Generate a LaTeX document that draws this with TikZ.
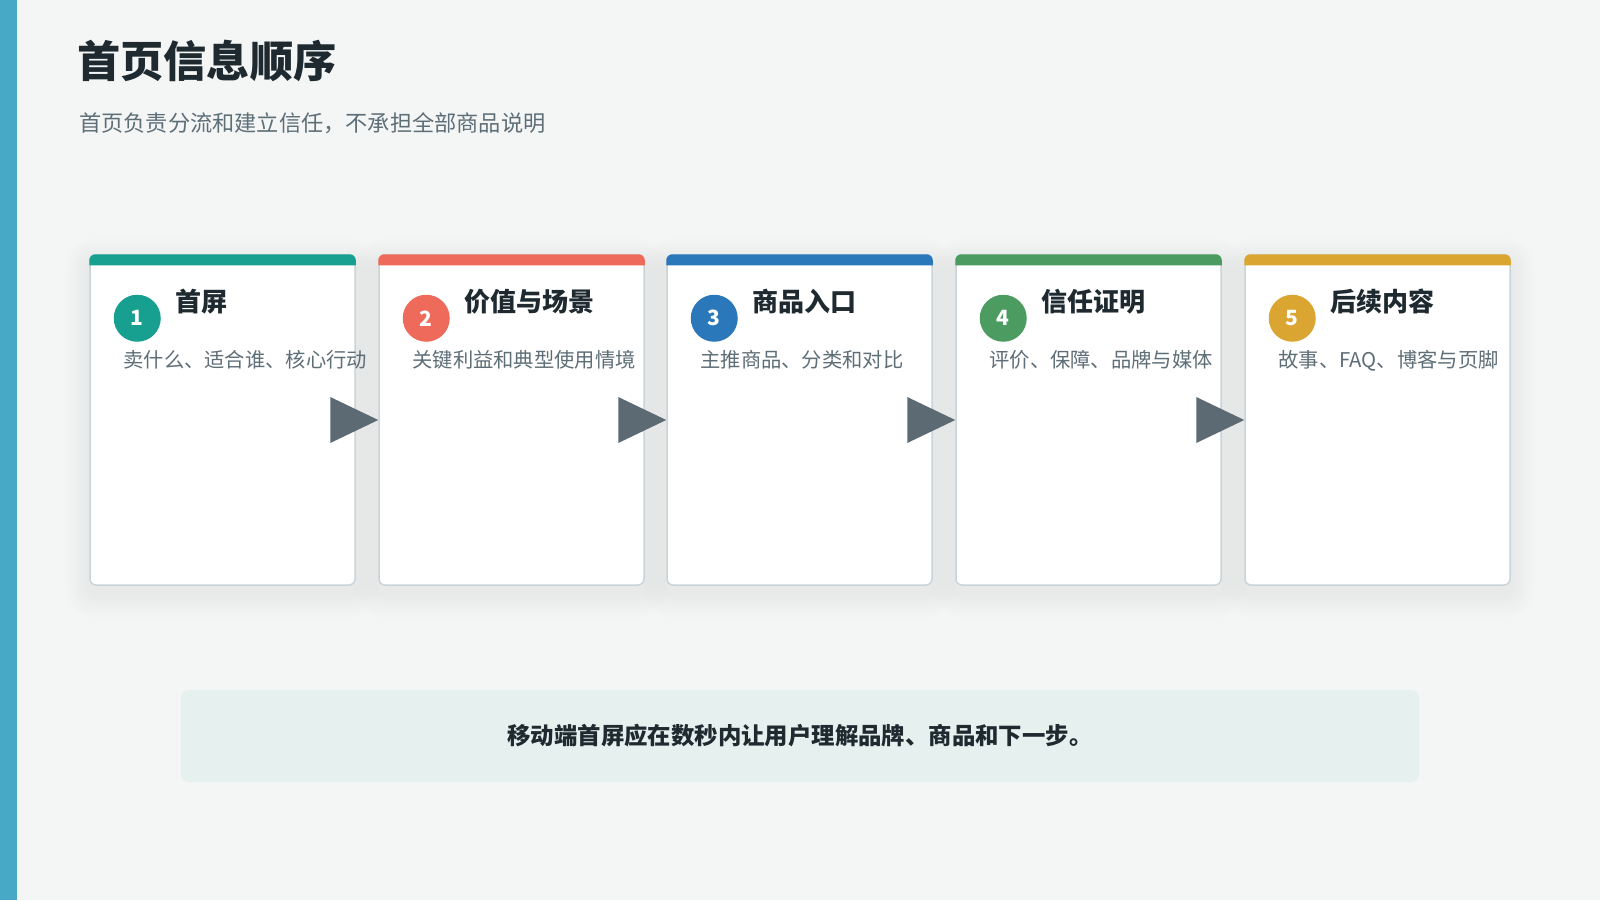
\documentclass[tikz,border=0pt]{standalone}
\usepackage{fontspec}
\setmainfont{Noto Sans CJK SC}

\definecolor{pagebg}{HTML}{F4F6F6}
\definecolor{sidebar}{HTML}{48A9C6}
\definecolor{titleink}{HTML}{1E2A30}
\definecolor{noteink}{HTML}{5E6E77}
\definecolor{cardline}{HTML}{C9D4D9}
\definecolor{arrowgrey}{HTML}{5B6A73}
\definecolor{notebg}{HTML}{E6F0EE}
\definecolor{stepteal}{HTML}{179F8F}
\definecolor{stepcoral}{HTML}{EE6A5A}
\definecolor{stepblue}{HTML}{2A78B9}
\definecolor{stepgreen}{HTML}{4C9C62}
\definecolor{stepgold}{HTML}{DAA530}

\pgfdeclarelayer{backdrop}
\pgfsetlayers{backdrop,main}

\tikzset{
  card/.style={draw=cardline, line width=1.5pt, fill=white, rounded corners=6pt,
    minimum width=265pt, minimum height=330pt, inner sep=0pt},
  stepnum/.style={circle, fill=#1, minimum size=47pt, inner sep=0pt, text=white,
    font=\fontsize{21}{21}\selectfont\bfseries},
  stephead/.style={anchor=west, inner sep=0pt, text=titleink, font=\fontsize{26}{30}\selectfont\bfseries},
  stepnote/.style={anchor=west, inner sep=0pt, text=noteink, font=\fontsize{20.3}{24}\selectfont},
  topbar/.style={fill=#1},
  flowtip/.style={fill=arrowgrey},
  softshade/.style={fill=black, opacity=0.004},
}

\begin{document}
\begin{tikzpicture}[x=1pt, y=-1pt]
    \node[anchor=west, inner sep=0pt, text=titleink, font=\fontsize{43.2}{50}\selectfont\bfseries] (title) at (77,61){首页信息顺序};
    \node[anchor=west, inner sep=0pt, text=noteink, font=\fontsize{22.2}{28}\selectfont] (subtitle) at (79,123){首页负责分流和建立信任，不承担全部商品说明};

    \node[card] (card1) at (222.5,420){};
    \node[card] (card2) at (511.5,420){};
    \node[card] (card3) at (799.5,420){};
    \node[card] (card4) at (1088.5,420){};
    \node[card] (card5) at (1377.5,420){};

    % page and soft shadows behind the cards
    \begin{pgfonlayer}{backdrop}
      \fill[pagebg] (0,0) rectangle (1600,900);
      \foreach \c in {card1,card2,card3,card4,card5}
        \foreach \r in {2,4,...,24}
          \fill[softshade, rounded corners=6pt+\r pt]
            ([xshift=-\r pt, yshift=-8pt+\r pt]\c.north west) rectangle ([xshift=\r pt, yshift=-8pt-\r pt]\c.south east);
    \end{pgfonlayer}
    \fill[sidebar] (0,0) rectangle (17,900);

    % coloured top strips
    \fill[topbar=stepteal] ([yshift=-11pt]card1.north west) [rounded corners=6pt] -- (card1.north west) -- (card1.north east) [sharp corners] -- ([yshift=-11pt]card1.north east) -- cycle;
    \fill[topbar=stepcoral] ([yshift=-11pt]card2.north west) [rounded corners=6pt] -- (card2.north west) -- (card2.north east) [sharp corners] -- ([yshift=-11pt]card2.north east) -- cycle;
    \fill[topbar=stepblue] ([yshift=-11pt]card3.north west) [rounded corners=6pt] -- (card3.north west) -- (card3.north east) [sharp corners] -- ([yshift=-11pt]card3.north east) -- cycle;
    \fill[topbar=stepgreen] ([yshift=-11pt]card4.north west) [rounded corners=6pt] -- (card4.north west) -- (card4.north east) [sharp corners] -- ([yshift=-11pt]card4.north east) -- cycle;
    \fill[topbar=stepgold] ([yshift=-11pt]card5.north west) [rounded corners=6pt] -- (card5.north west) -- (card5.north east) [sharp corners] -- ([yshift=-11pt]card5.north east) -- cycle;

    \node[stepnum=stepteal] (num1) at ([xshift=48pt,yshift=-64pt]card1.north west){1};
    \node[stephead] (head1) at ([xshift=86pt,yshift=-47.5pt]card1.north west){首屏};
    \node[stepnote] (note1) at ([xshift=34pt,yshift=-106pt]card1.north west){卖什么、适合谁、核心行动};

    \node[stepnum=stepcoral] (num2) at ([xshift=48pt,yshift=-64pt]card2.north west){2};
    \node[stephead] (head2) at ([xshift=86pt,yshift=-47.5pt]card2.north west){价值与场景};
    \node[stepnote] (note2) at ([xshift=34pt,yshift=-106pt]card2.north west){关键利益和典型使用情境};

    \node[stepnum=stepblue] (num3) at ([xshift=48pt,yshift=-64pt]card3.north west){3};
    \node[stephead] (head3) at ([xshift=86pt,yshift=-47.5pt]card3.north west){商品入口};
    \node[stepnote] (note3) at ([xshift=34pt,yshift=-106pt]card3.north west){主推商品、分类和对比};

    \node[stepnum=stepgreen] (num4) at ([xshift=48pt,yshift=-64pt]card4.north west){4};
    \node[stephead] (head4) at ([xshift=86pt,yshift=-47.5pt]card4.north west){信任证明};
    \node[stepnote] (note4) at ([xshift=34pt,yshift=-106pt]card4.north west){评价、保障、品牌与媒体};

    \node[stepnum=stepgold] (num5) at ([xshift=48pt,yshift=-64pt]card5.north west){5};
    \node[stephead] (head5) at ([xshift=86pt,yshift=-47.5pt]card5.north west){后续内容};
    \node[stepnote] (note5) at ([xshift=34pt,yshift=-106pt]card5.north west){故事、FAQ、博客与页脚};

    % flow markers between cards
    \fill[flowtip] (card2.west) -- ++(-48,-23) -- ++(0,46) -- cycle;
    \fill[flowtip] (card3.west) -- ++(-48,-23) -- ++(0,46) -- cycle;
    \fill[flowtip] (card4.west) -- ++(-48,-23) -- ++(0,46) -- cycle;
    \fill[flowtip] (card5.west) -- ++(-48,-23) -- ++(0,46) -- cycle;

    \node[fill=notebg, rounded corners=8pt, minimum width=1238pt, minimum height=92pt, inner sep=0pt,
      text=titleink, font=\fontsize{23.4}{28}\selectfont\bfseries] (takeaway) at (800,736){移动端首屏应在数秒内让用户理解品牌、商品和下一步。};
\end{tikzpicture}
\end{document}
